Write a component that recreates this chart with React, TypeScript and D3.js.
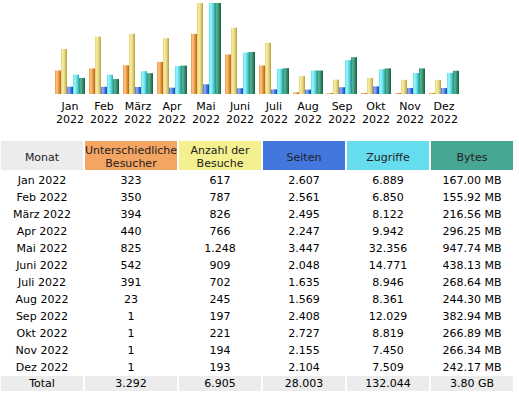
import React from 'react';
import * as d3 from 'd3';

const months = ['Jan', 'Feb', 'März', 'Apr', 'Mai', 'Juni', 'Juli', 'Aug', 'Sep', 'Okt', 'Nov', 'Dez'];
const year = '2022';
const visitors = [323, 350, 394, 440, 825, 542, 391, 23, 1, 1, 1, 1];
const visits = [617, 787, 826, 766, 1248, 909, 702, 245, 197, 221, 194, 193];
const pages = [2607, 2561, 2495, 2247, 3447, 2048, 1635, 1569, 2408, 2727, 2155, 2104];
const hits = [6889, 6850, 8122, 9942, 32356, 14771, 8946, 8361, 12029, 8819, 7450, 7509];
const bytesMB = [167.0, 155.92, 216.56, 296.25, 947.74, 438.13, 268.64, 244.3, 382.94, 266.89, 266.34, 242.17];

const seriesKeys = ['u', 'v', 'p', 'h', 'k'];
const headers = [
  ['Monat'],
  ['Unterschiedliche', 'Besucher'],
  ['Anzahl der', 'Besuche'],
  ['Seiten'],
  ['Zugriffe'],
  ['Bytes'],
];

// bar gradients: [light, base, dark]
const barColors = {
  u: ['#f9c98c', '#e9943f', '#b8601c'],
  v: ['#f6efa8', '#e2d174', '#b39f42'],
  p: ['#8fb0ff', '#4472e0', '#2343a6'],
  h: ['#a4f4f7', '#58dfe9', '#2fa4b2'],
  k: ['#5bb596', '#2f8c6b', '#1c5e45'],
};
const headColors = ['#ececec', '#f4a463', '#f4f090', '#4477dd', '#66ddee', '#48a695'];

const deLocale = d3.formatLocale({ decimal: ',', thousands: '.', grouping: [3], currency: ['', '€'] });
const fmtInt = deLocale.format(',d');
const fmtMB = (v: number) => d3.format('.2f')(v) + ' MB';

export default function App() {
  const W = 519, H = 398;
  const base = 94, maxH = 91;

  const x = d3.scaleBand().domain(months).range([55, 55 + 34 * 12]).padding(0);
  const xi = d3.scaleBand().domain(seriesKeys).range([0, 30]);
  const yV = d3.scaleLinear().domain([0, d3.max(visits)!]).range([0, maxH]);
  const yH = d3.scaleLinear().domain([0, d3.max(hits)!]).range([0, maxH]);
  const yK = d3.scaleLinear().domain([0, d3.max(bytesMB)!]).range([0, maxH]);

  const series: { key: string; vals: number[]; y: d3.ScaleLinear<number, number> }[] = [
    { key: 'u', vals: visitors, y: yV },
    { key: 'v', vals: visits, y: yV },
    { key: 'p', vals: pages, y: yH },
    { key: 'h', vals: hits, y: yH },
    { key: 'k', vals: bytesMB, y: yK },
  ];

  // table layout
  const cols = [
    { x0: 1, x1: 83 },
    { x0: 85, x1: 177 },
    { x0: 179, x1: 261 },
    { x0: 263, x1: 345 },
    { x0: 347, x1: 429 },
    { x0: 431, x1: 513 },
  ];
  const rowY = d3.scaleLinear().domain([0, 1]).range([180, 197]);

  const rows = months.map((m, i) => [
    `${m} ${year}`,
    fmtInt(visitors[i]),
    fmtInt(visits[i]),
    fmtInt(pages[i]),
    fmtInt(hits[i]),
    fmtMB(bytesMB[i]),
  ]);
  const totals = [
    'Total',
    fmtInt(d3.sum(visitors)),
    fmtInt(d3.sum(visits)),
    fmtInt(d3.sum(pages)),
    fmtInt(d3.sum(hits)),
    d3.format('.2f')(d3.sum(bytesMB) / 1024) + ' GB',
  ];

  const font = 'Verdana, "DejaVu Sans", sans-serif';

  return (
    <div style={{ position: 'absolute', left: 0, top: 0 }}>
      <svg width={W} height={H} style={{ display: 'block', background: '#fff' }} fontFamily={font}>
        <defs>
          {seriesKeys.map(k => {
            const c = barColors[k as keyof typeof barColors];
            return (
              <linearGradient key={k} id={`g-${k}`} x1="0" x2="1" y1="0" y2="0">
                <stop offset="0" stopColor={c[1]} />
                <stop offset="0.3" stopColor={c[0]} />
                <stop offset="0.65" stopColor={c[1]} />
                <stop offset="1" stopColor={c[2]} />
              </linearGradient>
            );
          })}
        </defs>

        {series.map(s => (
          <g key={s.key}>
            {s.vals.map((v, i) => {
              const h = Math.max(1, s.y(v));
              return (
                <rect
                  key={i}
                  x={x(months[i])! + xi(s.key)!}
                  y={base - h}
                  width={xi.bandwidth()}
                  height={h}
                  fill={`url(#g-${s.key})`}
                />
              );
            })}
          </g>
        ))}

        {months.map(m => (
          <text key={m} x={x(m)! + 15} textAnchor="middle" fontSize={11} fill="#000">
            <tspan x={x(m)! + 15} y={110}>{m}</tspan>
            <tspan x={x(m)! + 15} y={123}>{year}</tspan>
          </text>
        ))}

        {cols.map((c, j) => (
          <g key={j}>
            <rect x={c.x0} y={141} width={c.x1 - c.x0} height={29} fill={headColors[j]} />
            {headers[j].length === 1 ? (
              <text x={(c.x0 + c.x1) / 2} y={157} dy="0.35em" textAnchor="middle" fontSize={11} fill="#222">
                {headers[j][0]}
              </text>
            ) : (
              <text textAnchor="middle" fontSize={11} fill="#222">
                <tspan x={(c.x0 + c.x1) / 2} y={150} dy="0.35em">{headers[j][0]}</tspan>
                <tspan x={(c.x0 + c.x1) / 2} y={163} dy="0.35em">{headers[j][1]}</tspan>
              </text>
            )}
          </g>
        ))}

        {rows.map((r, i) => (
          <g key={i}>
            {r.map((t, j) => (
              <text
                key={j}
                x={(cols[j].x0 + cols[j].x1) / 2}
                y={rowY(i)}
                dy="0.35em"
                textAnchor="middle"
                fontSize={11}
                fill="#000"
              >
                {t}
              </text>
            ))}
          </g>
        ))}

        {cols.map((c, j) => (
          <g key={`t${j}`}>
            <rect x={c.x0} y={376} width={c.x1 - c.x0} height={15} fill="#ececec" />
            <text x={(c.x0 + c.x1) / 2} y={383.5} dy="0.35em" textAnchor="middle" fontSize={11} fill="#000">
              {totals[j]}
            </text>
          </g>
        ))}
      </svg>
    </div>
  );
}
